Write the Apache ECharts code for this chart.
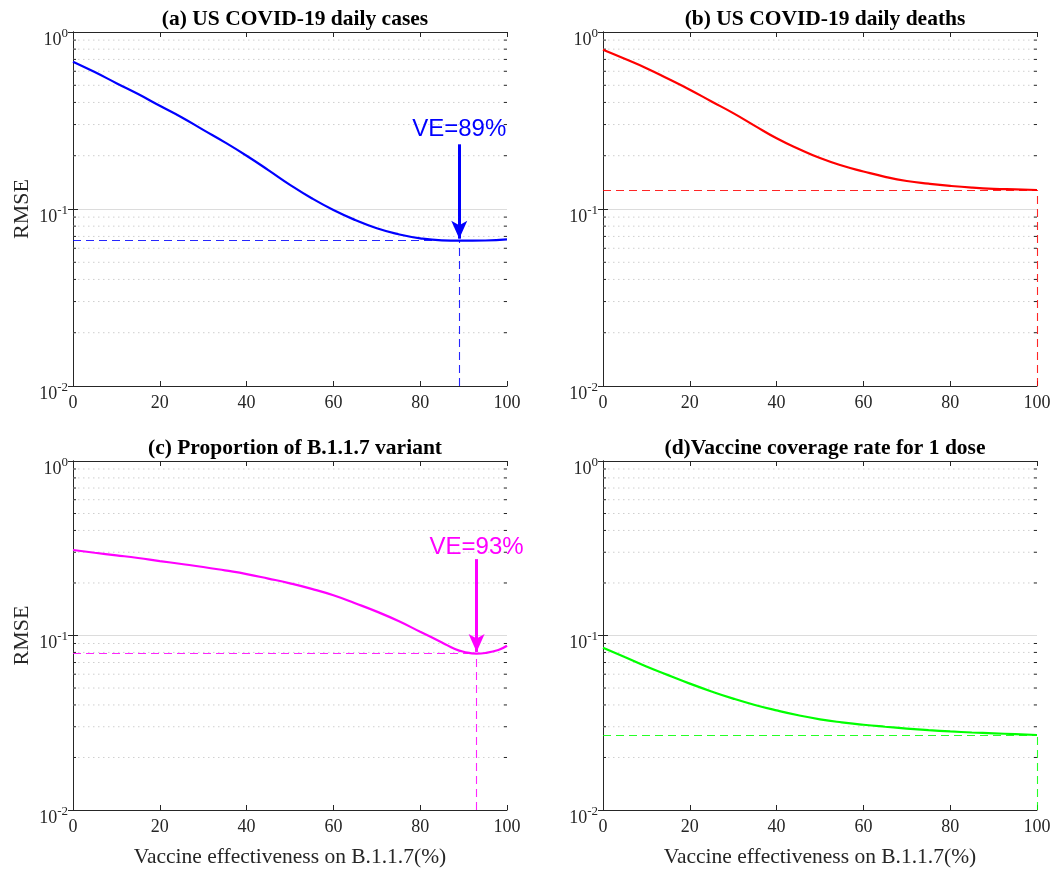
<!DOCTYPE html>
<html><head><meta charset="utf-8">
<script src="https://cdn.jsdelivr.net/npm/echarts@6/dist/echarts.min.js"></script>
<style>html,body{margin:0;padding:0;background:#fff}#c{width:1058px;height:869px}</style>
</head><body><div id="c"></div>
<script>
// ---- data ----
const xTicks = [0, 20, 40, 60, 80, 100];
const xsA = [0,5,10,15,20,25,30,35,40,45,50,55,60,65,70,75,80,85,89,95,100];
const casesRMSE = [0.68,0.594,0.514,0.446,0.383,0.33,0.28,0.238,0.2,0.166,0.137,0.115,0.0987,0.0867,0.0778,0.072,0.0683,0.0665,0.0662,0.0664,0.0673];
const xsB = [0,5,10,15,20,25,30,35,40,45,50,55,60,65,70,75,80,85,90,95,100];
const deathsRMSE = [0.794,0.706,0.625,0.544,0.472,0.405,0.348,0.295,0.251,0.219,0.194,0.176,0.163,0.152,0.144,0.139,0.135,0.132,0.130,0.129,0.128];
const xsC = [0,5,10,15,20,25,30,35,40,45,50,55,60,65,70,75,80,85,88,90,93,95,98,100];
const variantRMSE = [0.309,0.298,0.288,0.278,0.267,0.257,0.247,0.236,0.225,0.212,0.199,0.185,0.170,0.153,0.137,0.121,0.105,0.0913,0.0837,0.0807,0.0787,0.0794,0.0826,0.0873];
const xsD = [0,5,10,15,20,25,30,35,40,45,50,55,60,65,70,75,80,85,90,95,100];
const coverageRMSE = [0.0851,0.0753,0.0664,0.0593,0.053,0.0478,0.0435,0.04,0.0372,0.0349,0.0331,0.0318,0.0308,0.03,0.0293,0.0287,0.0282,0.0278,0.0275,0.0272,0.0269];
const titles = ['(a) US COVID-19 daily cases','(b) US COVID-19 daily deaths','(c) Proportion of B.1.1.7 variant','(d)Vaccine coverage rate for 1 dose'];
const colors = ['#0000ff','#ff0000','#ff00ff','#00ff00'];
const minima = [{x:89,y:0.0662},{x:100,y:0.128},{x:93,y:0.0787},{x:100,y:0.0269}];
const annotations = [{text:'VE=89%',x:89,yText:0.283,yStart:0.232,yEnd:0.068},null,{text:'VE=93%',x:93,yText:0.322,yStart:0.274,yEnd:0.0805},null];
const minorVals = [0.02,0.03,0.04,0.05,0.06,0.07,0.08,0.09,0.2,0.3,0.4,0.5,0.6,0.7,0.8,0.9];
const yLabel = 'RMSE';
const xLabel = 'Vaccine effectiveness on B.1.1.7(%)';
// ---- layout ----
const grids = [
  {left:73, top:32, width:434, height:354},
  {left:603, top:32, width:434, height:354},
  {left:73, top:461, width:434, height:352},
  {left:603, top:461, width:434, height:352}
];
const serif = '"Liberation Serif","Times New Roman",serif';
const sans = '"Liberation Sans",Arial,sans-serif';
const xsAll = [xsA, xsB, xsC, xsD];
const ysAll = [casesRMSE, deathsRMSE, variantRMSE, coverageRMSE];

const xAxis = [], yAxis = [], series = [], title = [];
grids.forEach((g, i) => {
  const base = {gridIndex:i, type:'value', min:0, max:100, interval:20};
  xAxis.push(Object.assign({}, base, {
    position:'bottom',
    axisLine:{show:true, lineStyle:{color:'#262626', width:1}},
    axisTick:{show:true, inside:true, length:5, lineStyle:{color:'#262626'}},
    axisLabel:{show:true, fontFamily:serif, fontSize:18, color:'#262626', margin:8},
    splitLine:{show:false},
    name: i >= 2 ? xLabel : '', nameLocation:'middle', nameGap:36,
    nameTextStyle:{fontFamily:serif, fontSize:21.5, color:'#262626'}
  }));
  xAxis.push(Object.assign({}, base, {
    position:'top',
    axisLine:{show:true, lineStyle:{color:'#262626', width:1}},
    axisTick:{show:true, inside:true, length:5, lineStyle:{color:'#262626'}},
    axisLabel:{show:false}, splitLine:{show:false}
  }));
  const ybase = {gridIndex:i, type:'log', logBase:10, min:0.01, max:1};
  yAxis.push(Object.assign({}, ybase, {
    position:'left',
    axisLine:{show:true, lineStyle:{color:'#262626', width:1}},
    axisTick:{show:true, inside:true, length:5, lineStyle:{color:'#262626'}},
    axisLabel:{show:true, margin:5, padding:[8,0,0,0],
      formatter: v => '{b|10}{s|' + Math.round(Math.log10(v)) + '}',
      rich:{b:{fontFamily:serif, fontSize:18, color:'#262626', verticalAlign:'bottom', lineHeight:26},
            s:{fontFamily:serif, fontSize:13, color:'#262626', verticalAlign:'bottom', lineHeight:13, padding:[0,0,9,0]}}},
    splitLine:{show:true, lineStyle:{color:'#dcdcdc', width:1}},
    name: (i % 2 === 0) ? yLabel : '', nameLocation:'middle', nameGap:40,
    nameTextStyle:{fontFamily:serif, fontSize:22, color:'#262626'}
  }));
  yAxis.push(Object.assign({}, ybase, {
    position:'right',
    axisLine:{show:true, lineStyle:{color:'#262626', width:1}},
    axisTick:{show:true, inside:true, length:5, lineStyle:{color:'#262626'}},
    axisLabel:{show:false}, splitLine:{show:false}
  }));
  title.push({text:titles[i], left:g.left + g.width/2, top:g.top - 29, textAlign:'center',
    textStyle:{fontFamily:serif, fontSize:21.5, fontWeight:'bold', color:'#000'}});

  // minor dotted grid + minor ticks
  series.push({
    type:'custom', xAxisIndex:2*i, yAxisIndex:2*i, silent:true, z:1,
    data: minorVals.map(v => [0, v]),
    renderItem: (params, api) => {
      const v = api.value(1);
      const p0 = api.coord([0, v]), p1 = api.coord([100, v]);
      return {type:'group', children:[
        {type:'line', shape:{x1:p0[0], y1:p0[1], x2:p1[0], y2:p1[1]},
         style:{stroke:'#cfcfcf', lineWidth:1, lineDash:[1.5,3.5]}},
        {type:'line', shape:{x1:p0[0], y1:p0[1], x2:p0[0]+3, y2:p0[1]}, style:{stroke:'#262626', lineWidth:1}},
        {type:'line', shape:{x1:p1[0]-3, y1:p1[1], x2:p1[0], y2:p1[1]}, style:{stroke:'#262626', lineWidth:1}}
      ]};
    }
  });

  const m = minima[i];
  const dashStyle = {color:colors[i], type:[8,5], width:1.1, opacity:0.85};
  const markLineData = [
    [{coord:[0, m.y], lineStyle:dashStyle}, {coord:[m.x, m.y]}],
    [{coord:[m.x, 0.01], lineStyle:dashStyle}, {coord:[m.x, m.y]}]
  ];
  series.push({
    type:'line', xAxisIndex:2*i, yAxisIndex:2*i, z:3,
    data: xsAll[i].map((x, k) => [x, ysAll[i][k]]),
    smooth:0.5, showSymbol:false, symbol:'none',
    itemStyle:{color:colors[i]},
    lineStyle:{color:colors[i], width:2.2},
    markLine:{silent:true, symbol:['none','none'], animation:false,
      lineStyle:dashStyle, emphasis:{disabled:true},
      label:{show:false}, data: markLineData}
  });

  const a = annotations[i];
  if (a) {
    series.push({
      type:'line', xAxisIndex:2*i, yAxisIndex:2*i, z:4, data:[],
      itemStyle:{color:colors[i]},
      markLine:{silent:true, animation:false, symbol:['none','arrow'], symbolSize:[12,18],
        lineStyle:{color:colors[i], type:'solid', width:3},
        itemStyle:{color:colors[i]},
        label:{show:false},
        data:[[{coord:[a.x, a.yStart]}, {coord:[a.x, a.yEnd]}]]},
      markPoint:{silent:true, animation:false, symbol:'circle', symbolSize:0,
        label:{show:true, position:'inside', formatter:a.text, color:colors[i], fontFamily:sans, fontSize:24},
        data:[{coord:[a.x, a.yText]}]}
    });
  }
});

const chart = echarts.init(document.getElementById('c'), null, {renderer:'canvas'});
chart.setOption({
  animation:false, backgroundColor:'#fff',
  title, grid: grids.map(g => Object.assign({containLabel:false}, g)),
  xAxis, yAxis, series
});
</script></body></html>
